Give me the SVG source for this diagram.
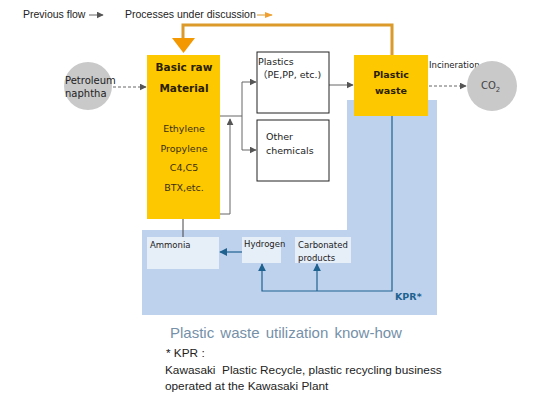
<svg xmlns="http://www.w3.org/2000/svg" width="538" height="400" viewBox="0 0 538 400">
<style>
.t{font-family:"DejaVu Sans","Noto Sans CJK JP",sans-serif}
.c{font-family:"Liberation Sans","Noto Sans",sans-serif}
.b{font-weight:bold}
.y{fill:#FDC800}
.box{fill:#fff;stroke:#222;stroke-width:1}
.lb{fill:#E6EEF8}
.g{fill:none;stroke:#666;stroke-width:1}
.gd{fill:none;stroke:#666;stroke-width:1;stroke-dasharray:3 2}
.bl{fill:none;stroke:#1F628F;stroke-width:1.2}
.o{fill:none;stroke:#DB9A2A;stroke-width:3}
</style>
<defs>
<marker id="ag" viewBox="0 0 10 10" refX="9" refY="5" markerWidth="7" markerHeight="7" orient="auto" markerUnits="userSpaceOnUse"><path d="M0,0 L10,5 L0,10 z" fill="#555"/></marker>
<marker id="ab" viewBox="0 0 10 10" refX="9" refY="5" markerWidth="8" markerHeight="8" orient="auto" markerUnits="userSpaceOnUse"><path d="M0,0 L10,5 L0,10 z" fill="#1F628F"/></marker>
<marker id="ao" viewBox="0 0 10 10" refX="9" refY="5" markerWidth="8" markerHeight="8" orient="auto" markerUnits="userSpaceOnUse"><path d="M0,1 L10,5 L0,9 z" fill="#F0A030"/></marker>
</defs>
<rect width="538" height="400" fill="#fff"/>

<!-- legend -->
<g id="legend" fill="#222">
<text class="c" x="23" y="18" font-size="10.5">Previous flow</text>
<line x1="89" y1="15" x2="103" y2="15" class="g" marker-end="url(#ag)"/>
<text class="c" x="125" y="18" font-size="10.5">Processes under discussion</text>
<line x1="257" y1="15" x2="272" y2="15" stroke="#DB9A2A" stroke-width="1" marker-end="url(#ao)"/>
</g>

<!-- blue region -->
<g id="kpr-region">
<path d="M142,230 L347,230 L347,100 L437,100 L437,315 L142,315 Z" fill="#BED2EE"/>
</g>

<!-- connectors -->
<g id="connectors">
<path d="M392,55 L392,25 L183,25 L183,40" class="o"/>
<path d="M172,38 L195,38 L183.5,53 Z" fill="#F39800"/>
<line x1="113" y1="87" x2="146" y2="87" class="gd" marker-end="url(#ag)"/>
<path d="M220,116 L242,116" class="g"/>
<path d="M242,82 L242,150" class="g"/>
<line x1="242" y1="82" x2="256" y2="82" class="g" marker-end="url(#ag)"/>
<line x1="242" y1="150" x2="256" y2="150" class="g" marker-end="url(#ag)"/>
<path d="M220,214 L230,214 L230,119" class="g" marker-end="url(#ag)"/>
<line x1="329" y1="85" x2="353" y2="85" class="g" marker-end="url(#ag)"/>
<line x1="429" y1="86" x2="466" y2="86" class="gd" marker-end="url(#ag)"/>
<line x1="183" y1="219" x2="183" y2="237" stroke="#444" stroke-width="1"/>
<path d="M392,116 L392,291 L262,291 L262,264" class="bl" marker-end="url(#ab)"/>
<line x1="317" y1="291" x2="317" y2="264" class="bl" marker-end="url(#ab)"/>
<line x1="242" y1="252" x2="220" y2="252" class="bl" marker-end="url(#ab)"/>
</g>

<g id="naphtha" fill="#222">
<circle cx="88" cy="86" r="24" fill="#C9C9C9"/>
<text class="t" x="65" y="84" font-size="10">Petroleum</text>
<text class="t" x="65" y="97" font-size="10">naphtha</text>
</g>

<g id="basic-raw-material">
<rect x="147" y="55" width="73" height="164" class="y"/>
<g class="t" font-size="10.5" text-anchor="middle" font-weight="bold" fill="#2a2000">
<text x="184" y="71">Basic raw</text>
<text x="184" y="92">Material</text>
</g>
<g class="t" font-size="9.5" text-anchor="middle" fill="#3a2e10">
<text x="184" y="132">Ethylene</text>
<text x="184" y="152">Propylene</text>
<text x="184" y="171">C4,C5</text>
<text x="184" y="191">BTX,etc.</text>
</g>
</g>

<g id="plastics" fill="#222">
<rect x="257" y="52" width="72" height="61" class="box"/>
<text class="t" x="258" y="65" font-size="9.5">Plastics</text>
<text class="t" x="258" y="78" font-size="9.5">（PE,PP, etc.)</text>
</g>

<g id="other-chemicals" fill="#222">
<rect x="257" y="120" width="72" height="61" class="box"/>
<text class="t" x="266" y="140" font-size="9.5">Other</text>
<text class="t" x="266" y="154" font-size="9.5">chemicals</text>
</g>

<g id="plastic-waste" fill="#2a2000">
<rect x="354" y="55" width="74" height="61" class="y"/>
<text class="t b" x="391" y="78" font-size="9.5" text-anchor="middle">Plastic</text>
<text class="t b" x="391" y="94" font-size="9.5" text-anchor="middle">waste</text>
</g>

<g id="incineration" fill="#222">
<text class="t" x="429" y="68" font-size="8.5">Incineration</text>
</g>

<g id="co2" fill="#444">
<circle cx="492" cy="86" r="25" fill="#C9C9C9"/>
<text class="t" x="481" y="89" font-size="10">CO<tspan font-size="7" dy="2.5">2</tspan></text>
</g>

<g id="ammonia" fill="#222">
<rect x="147" y="237" width="72" height="32" class="lb"/>
<text class="t" x="150" y="248" font-size="8.5">Ammonia</text>
</g>

<g id="hydrogen" fill="#222">
<rect x="242" y="237" width="39" height="26" class="lb"/>
<text class="t" x="244" y="247" font-size="8.5">Hydrogen</text>
</g>

<g id="carbonated-products" fill="#222">
<rect x="295" y="237" width="56" height="26" class="lb"/>
<text class="t" x="298" y="248" font-size="8.5">Carbonated</text>
<text class="t" x="298" y="261" font-size="8.5">products</text>
</g>

<g id="kpr-label" fill="#1F628F">
<text class="t b" x="395" y="300" font-size="9.5">KPR*</text>
</g>

<g id="captions" fill="#222">
<text class="c" x="170" y="338" font-size="15" fill="#7590A8" word-spacing="2">Plastic waste utilization know-how</text>
<text class="c" x="166" y="357" font-size="11.8">* KPR :</text>
<text class="c" x="165" y="374" font-size="11.8" xml:space="preserve">Kawasaki  Plastic Recycle, plastic recycling business</text>
<text class="c" x="165" y="390" font-size="11.8">operated at the Kawasaki Plant</text>
</g>
</svg>
